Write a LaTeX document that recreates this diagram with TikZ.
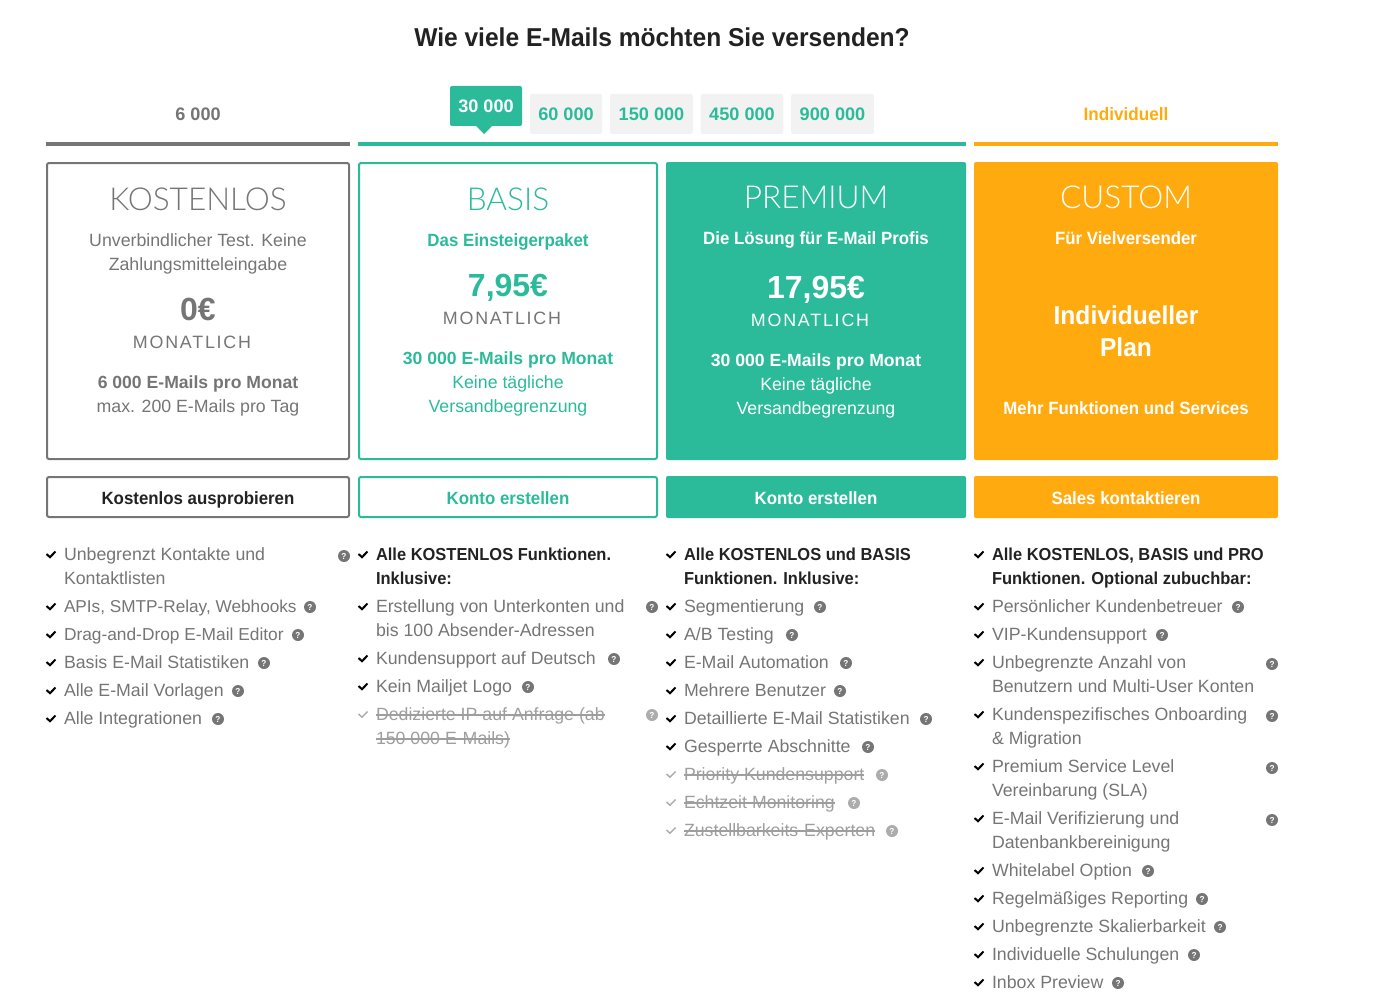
\documentclass[tikz,border=0pt]{standalone}
\usepackage{fontspec}
\setmainfont{Liberation Sans}[BoldFeatures={FakeStretch=0.95}]
\newfontfamily\lightfont{Lato Light}
\newfontfamily\numfont{Liberation Sans Bold}
\definecolor{mjgreen}{HTML}{2BBB9B}
\definecolor{mjorange}{HTML}{FFAB0F}
\definecolor{mjgrey}{HTML}{757575}
\definecolor{mjtab}{HTML}{F2F2F2}
\definecolor{mjdark}{HTML}{222222}
\def\fs#1{\fontsize{#1}{#1}\selectfont}
\tikzset{
	every node/.style={inner sep=0pt, outer sep=0pt},
	linebox/.style={text height=9.75pt, text depth=0.75pt},
	feattext/.style={anchor=west, text=mjgrey, text height=9.75pt, text depth=2.25pt, font=\fs{13.3}},
	featbold/.style={feattext, text=mjdark, font=\fs{13}\bfseries},
	featoff/.style={feattext, text=mjgrey!70},
	chk/.style={line width=1.5pt, black},
	chkoff/.style={line width=1.1pt, mjgrey!60},
	strike/.style={line width=0.8pt, mjgrey!70},
	qmark/.style={circle, fill=mjgrey, minimum size=9pt, text=white, font=\fs{6.5}\bfseries},
	qmarkoff/.style={qmark, fill=mjgrey!60},
	tablabel/.style={text height=10.5pt, text depth=0pt, font=\fs{13.6}\numfont},
	tabbox/.style={tablabel, rounded corners=1.5pt, fill=mjtab, minimum height=30pt, text=mjgreen},
	cardline/.style={rounded corners=1.5pt, line width=1.5pt},
	plantitle/.style={font=\lightfont\fs{23.7}},
	planbody/.style={linebox, font=\fs{13.3}},
	planbold/.style={linebox, font=\fs{13.3}\bfseries},
	planmail/.style={linebox, font=\fs{13.2}\numfont},
	planprice/.style={text height=17.5pt, text depth=0pt, font=\fs{24}\numfont},
	planmonth/.style={linebox, font=\addfontfeature{LetterSpace=10}\fs{13.4}},
	btnlabel/.style={linebox, font=\fs{13.3}\bfseries},
	bigtext/.style={text height=14pt, text depth=0pt, font=\fs{19.4}\bfseries},
}
\def\chkat(#1,#2){\draw[chk] (#1-4.5,#2) -- (#1-1,#2+3.2) -- (#1+4.5,#2-2.5);}
\def\chkoffat(#1,#2){\draw[chkoff] (#1-4.5,#2) -- (#1-1,#2+3.2) -- (#1+4.5,#2-2.5);}
\begin{document}
\begin{tikzpicture}[x=0.75pt, y=-0.75pt]
	\useasboundingbox (0,0) rectangle (1394,1002);
	%%%%% HEADER %%%%%
	\node[bigtext, text=mjdark] (title) at (662,37) {Wie viele E-Mails möchten Sie versenden?};
	\node[tablabel, text=mjgrey] (tabfree) at (198,114) {6 000};
	\node[tablabel, font=\fs{13.5}\bfseries, text=mjorange] (tabcustom) at (1126,114) {Individuell};

	\fill[mjgreen, rounded corners=1.5pt] (450,86) rectangle (522,126);
	\fill[mjgreen] (476,126) -- (484,134) -- (492,126) -- cycle;
	\node[tablabel, text=white] (tab30) at (486,106) {30 000};
	\node[tabbox, minimum width=54pt] (tab60) at (566,114) {60 000};
	\node[tabbox, minimum width=62pt] (tab150) at (651.5,114) {150 000};
	\node[tabbox, minimum width=62pt] (tab450) at (742,114) {450 000};
	\node[tabbox, minimum width=62pt] (tab900) at (832.5,114) {900 000};

	\fill[mjgrey] (46,142) rectangle (350,146);
	\fill[mjgreen] (358,142) rectangle (966,146);
	\fill[mjorange] (974,142) rectangle (1278,146);

	%%%%% CARDS %%%%%
	\draw[cardline, draw=mjgrey] (47,163) rectangle (349,459);
	\node[plantitle, text=mjgrey] (freetitle) at (198,199) {KOSTENLOS};
	\node[planbody, text=mjgrey] (freesub1) at (198,240) {Unverbindlicher Test. Keine};
	\node[planbody, text=mjgrey] (freesub2) at (198,264) {Zahlungsmitteleingabe};
	\node[planprice, text=mjgrey] (freeprice) at (198,309) {0€};
	\node[planmonth, text=mjgrey] (freemonth) at (192,342) {MONATLICH};
	\node[planmail, text=mjgrey] (freemail) at (198,382) {6 000 E-Mails pro Monat};
	\node[planbody, text=mjgrey] (freeday) at (198,406) {max. 200 E-Mails pro Tag};

	\draw[cardline, draw=mjgreen] (359,163) rectangle (657,459);
	\node[plantitle, text=mjgreen] (basistitle) at (508,199) {BASIS};
	\node[planbold, text=mjgreen] (basissub) at (508,240) {Das Einsteigerpaket};
	\node[planprice, text=mjgreen] (basisprice) at (508,285) {7,95€};
	\node[planmonth, text=mjgrey] (basismonth) at (502,318) {MONATLICH};
	\node[planmail, text=mjgreen] (basismail) at (508,358) {30 000 E-Mails pro Monat};
	\node[planbody, text=mjgreen] (basisday1) at (508,382) {Keine tägliche};
	\node[planbody, text=mjgreen] (basisday2) at (508,406) {Versandbegrenzung};

	\fill[mjgreen, rounded corners=1.5pt] (666,162) rectangle (966,460);
	\node[plantitle, text=white] (premtitle) at (816,197) {PREMIUM};
	\node[planbold, text=white] (premsub) at (816,238) {Die Lösung für E-Mail Profis};
	\node[planprice, text=white] (premprice) at (816,287) {17,95€};
	\node[planmonth, text=white] (premmonth) at (810,320) {MONATLICH};
	\node[planmail, text=white] (premmail) at (816,360) {30 000 E-Mails pro Monat};
	\node[planbody, text=white] (premday1) at (816,384) {Keine tägliche};
	\node[planbody, text=white] (premday2) at (816,408) {Versandbegrenzung};

	\fill[mjorange, rounded corners=1.5pt] (974,162) rectangle (1278,460);
	\node[plantitle, text=white] (custtitle) at (1126,197) {CUSTOM};
	\node[planbold, text=white] (custsub) at (1126,238) {Für Vielversender};
	\node[bigtext, text=white] (custplan1) at (1126,315) {Individueller};
	\node[bigtext, text=white] (custplan2) at (1126,347) {Plan};
	\node[planbold, text=white] (custmore) at (1126,408) {Mehr Funktionen und Services};

	%%%%% BUTTONS %%%%%
	\draw[cardline, draw=mjgrey] (47,477) rectangle (349,517);
	\node[btnlabel, text=mjdark] (freebtn) at (198,498) {Kostenlos ausprobieren};
	\draw[cardline, draw=mjgreen] (359,477) rectangle (657,517);
	\node[btnlabel, text=mjgreen] (basisbtn) at (508,498) {Konto erstellen};
	\fill[mjgreen, rounded corners=1.5pt] (666,476) rectangle (966,518);
	\node[btnlabel, text=white] (prembtn) at (816,498) {Konto erstellen};
	\fill[mjorange, rounded corners=1.5pt] (974,476) rectangle (1278,518);
	\node[btnlabel, text=white] (custbtn) at (1126,498) {Sales kontaktieren};

	%%%%% KOSTENLOS LIST %%%%%
	\chkat(51,554)
	\node[feattext] (fa1) at (64,555) {Unbegrenzt Kontakte und};
	\node[feattext] (fa2) at (64,579) {Kontaktlisten};
	\node[qmark] (qa) at (344,556) {?};
	\chkat(51,606)
	\node[feattext, font=\fs{12.9}] (fb) at (64,607) {APIs, SMTP-Relay, Webhooks};
	\node[qmark] (qb) at (310,607) {?};
	\chkat(51,634)
	\node[feattext, font=\fs{13}] (fc) at (64,635) {Drag-and-Drop E-Mail Editor};
	\node[qmark] (qc) at (298,635) {?};
	\chkat(51,662)
	\node[feattext] (fd) at (64,663) {Basis E-Mail Statistiken};
	\node[qmark] (qd) at (264,663) {?};
	\chkat(51,690)
	\node[feattext] (fe) at (64,691) {Alle E-Mail Vorlagen};
	\node[qmark] (qe) at (238,691) {?};
	\chkat(51,718)
	\node[feattext] (ff) at (64,719) {Alle Integrationen};
	\node[qmark] (qf) at (218,719) {?};

	%%%%% BASIS LIST %%%%%
	\chkat(363,554)
	\node[featbold] (ga1) at (376,555) {Alle KOSTENLOS Funktionen.};
	\node[featbold] (ga2) at (376,579) {Inklusive:};
	\chkat(363,606)
	\node[feattext] (gb1) at (376,607) {Erstellung von Unterkonten und};
	\node[feattext] (gb2) at (376,631) {bis 100 Absender-Adressen};
	\node[qmark] (qgb) at (652,607) {?};
	\chkat(363,658)
	\node[feattext] (gc) at (376,659) {Kundensupport auf Deutsch};
	\node[qmark] (qgc) at (614,659) {?};
	\chkat(363,686)
	\node[feattext] (gd) at (376,687) {Kein Mailjet Logo};
	\node[qmark] (qgd) at (528,687) {?};
	\chkoffat(363,714)
	\node[featoff] (ge1) at (376,715) {Dedizierte IP auf Anfrage (ab};
	\node[featoff] (ge2) at (376,739) {150 000 E-Mails)};
	\draw[strike] (ge1.west) -- (ge1.east);
	\draw[strike] (ge2.west) -- (ge2.east);
	\node[qmarkoff] (qge) at (652,715) {?};

	%%%%% PREMIUM LIST %%%%%
	\chkat(671,554)
	\node[featbold] (ha1) at (684,555) {Alle KOSTENLOS und BASIS};
	\node[featbold] (ha2) at (684,579) {Funktionen. Inklusive:};
	\chkat(671,606)
	\node[feattext] (hb) at (684,607) {Segmentierung};
	\node[qmark] (qhb) at (820,607) {?};
	\chkat(671,634)
	\node[feattext] (hc) at (684,635) {A/B Testing};
	\node[qmark] (qhc) at (792,635) {?};
	\chkat(671,662)
	\node[feattext] (hd) at (684,663) {E-Mail Automation};
	\node[qmark] (qhd) at (846,663) {?};
	\chkat(671,690)
	\node[feattext] (he) at (684,691) {Mehrere Benutzer};
	\node[qmark] (qhe) at (840,691) {?};
	\chkat(671,718)
	\node[feattext] (hf) at (684,719) {Detaillierte E-Mail Statistiken};
	\node[qmark] (qhf) at (926,719) {?};
	\chkat(671,746)
	\node[feattext] (hg) at (684,747) {Gesperrte Abschnitte};
	\node[qmark] (qhg) at (868,747) {?};
	\chkoffat(671,774)
	\node[featoff] (hh) at (684,775) {Priority Kundensupport};
	\draw[strike] (hh.west) -- (hh.east);
	\node[qmarkoff] (qhh) at (882,775) {?};
	\chkoffat(671,802)
	\node[featoff] (hi) at (684,803) {Echtzeit Monitoring};
	\draw[strike] (hi.west) -- (hi.east);
	\node[qmarkoff] (qhi) at (854,803) {?};
	\chkoffat(671,830)
	\node[featoff] (hj) at (684,831) {Zustellbarkeits-Experten};
	\draw[strike] (hj.west) -- (hj.east);
	\node[qmarkoff] (qhj) at (892,831) {?};

	%%%%% CUSTOM LIST %%%%%
	\chkat(979,554)
	\node[featbold] (ka1) at (992,555) {Alle KOSTENLOS, BASIS und PRO};
	\node[featbold] (ka2) at (992,579) {Funktionen. Optional zubuchbar:};
	\chkat(979,606)
	\node[feattext] (kb) at (992,607) {Persönlicher Kundenbetreuer};
	\node[qmark] (qkb) at (1238,607) {?};
	\chkat(979,634)
	\node[feattext] (kc) at (992,635) {VIP-Kundensupport};
	\node[qmark] (qkc) at (1162,635) {?};
	\chkat(979,662)
	\node[feattext] (kd1) at (992,663) {Unbegrenzte Anzahl von};
	\node[feattext] (kd2) at (992,687) {Benutzern und Multi-User Konten};
	\node[qmark] (qkd) at (1272,664) {?};
	\chkat(979,714)
	\node[feattext] (ke1) at (992,715) {Kundenspezifisches Onboarding};
	\node[feattext] (ke2) at (992,739) {\& Migration};
	\node[qmark] (qke) at (1272,716) {?};
	\chkat(979,766)
	\node[feattext] (kf1) at (992,767) {Premium Service Level};
	\node[feattext] (kf2) at (992,791) {Vereinbarung (SLA)};
	\node[qmark] (qkf) at (1272,768) {?};
	\chkat(979,818)
	\node[feattext] (kg1) at (992,819) {E-Mail Verifizierung und};
	\node[feattext] (kg2) at (992,843) {Datenbankbereinigung};
	\node[qmark] (qkg) at (1272,820) {?};
	\chkat(979,870)
	\node[feattext] (kh) at (992,871) {Whitelabel Option};
	\node[qmark] (qkh) at (1148,871) {?};
	\chkat(979,898)
	\node[feattext] (ki) at (992,899) {Regelmäßiges Reporting};
	\node[qmark] (qki) at (1202,899) {?};
	\chkat(979,926)
	\node[feattext] (kj) at (992,927) {Unbegrenzte Skalierbarkeit};
	\node[qmark] (qkj) at (1220,927) {?};
	\chkat(979,954)
	\node[feattext] (kk) at (992,955) {Individuelle Schulungen};
	\node[qmark] (qkk) at (1194,955) {?};
	\chkat(979,982)
	\node[feattext] (kl) at (992,983) {Inbox Preview};
	\node[qmark] (qkl) at (1118,983) {?};
\end{tikzpicture}
\end{document}
